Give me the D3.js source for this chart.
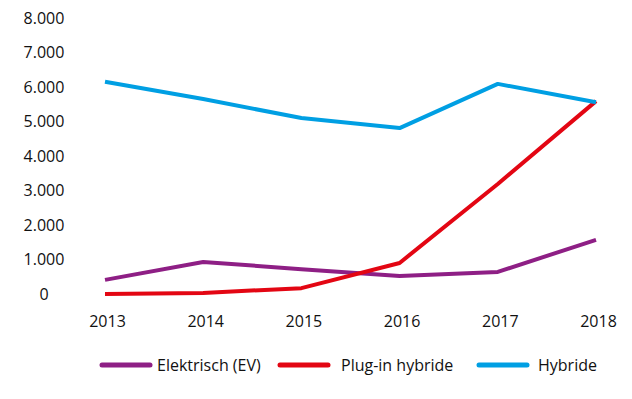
<!DOCTYPE html>
<html lang="nl">
<head>
<meta charset="UTF-8">
<title>Verkopen</title>
<style>
  body { margin: 0; background: #fff; }
  text { font-family: "Open Sans", sans-serif; fill: #111; }
</style>
</head>
<body>
<svg width="632" height="399" id="svg"></svg>
<script src="https://d3js.org/d3.v7.min.js"></script>
<script>
const years = [2013, 2014, 2015, 2016, 2017, 2018]
const elektrisch = [410, 930, 720, 520, 640, 1570]
const plugin = [0, 30, 170, 900, 3190, 5590]
const hybride = [6150, 5650, 5100, 4810, 6090, 5560]
const yTicks = [0, 1000, 2000, 3000, 4000, 5000, 6000, 7000, 8000]

const seriesNames = ["Elektrisch (EV)", "Plug-in hybride", "Hybride"]
const seriesColors = ["#8e1f85", "#e30613", "#009fe3"]
const seriesValues = [elektrisch, plugin, hybride]

const svg = d3.select("svg#svg")
const nl = d3.formatLocale({ decimal: ",", thousands: ".", grouping: [3], currency: ["€", ""] })
const fmt = nl.format(",d")

const x = d3.scalePoint().domain(years).range([105, 596])
const y = d3.scaleLinear().domain([0, 8000]).range([294, 18])

// y-as labels (gecentreerd, geen lijnen)
svg.append("g").selectAll("text").data(yTicks).join("text")
  .attr("x", 44)
  .attr("y", d => y(d))
  .attr("dy", "0.35em")
  .attr("text-anchor", "middle")
  .style("font-size", "16px")
  .text(d => fmt(d))

// x-as
const xAxis = d3.axisBottom(x).tickSize(0).tickPadding(0)
svg.append("g").attr("transform", "translate(2,321)").call(xAxis)
  .call(g => g.select(".domain").remove())
  .call(g => g.selectAll("text").attr("dy", "0.35em").attr("font-family", null).attr("fill", null).style("font-size", "16px"))

const line = d3.line().x((d, i) => x(years[i])).y(d => y(d))

svg.append("g").selectAll("path").data(seriesValues).join("path")
  .attr("d", d => line(d))
  .attr("fill", "none")
  .attr("stroke", (d, i) => seriesColors[i])
  .attr("stroke-width", 4)
  .attr("stroke-linejoin", "round")

// legenda
const legendX = [100, 278, 477]
const legendTextX = [57, 63, 61]
const leg = svg.append("g").selectAll("g").data(seriesNames).join("g")
  .attr("transform", (d, i) => `translate(${legendX[i]},365)`)
leg.append("line")
  .attr("x1", 2).attr("x2", 50)
  .attr("stroke", (d, i) => seriesColors[i])
  .attr("stroke-width", 5)
  .attr("stroke-linecap", "round")
leg.append("text")
  .attr("x", (d, i) => legendTextX[i])
  .attr("dy", "0.35em")
  .style("font-size", "16px")
  .text(d => d)
</script>
</body>
</html>
